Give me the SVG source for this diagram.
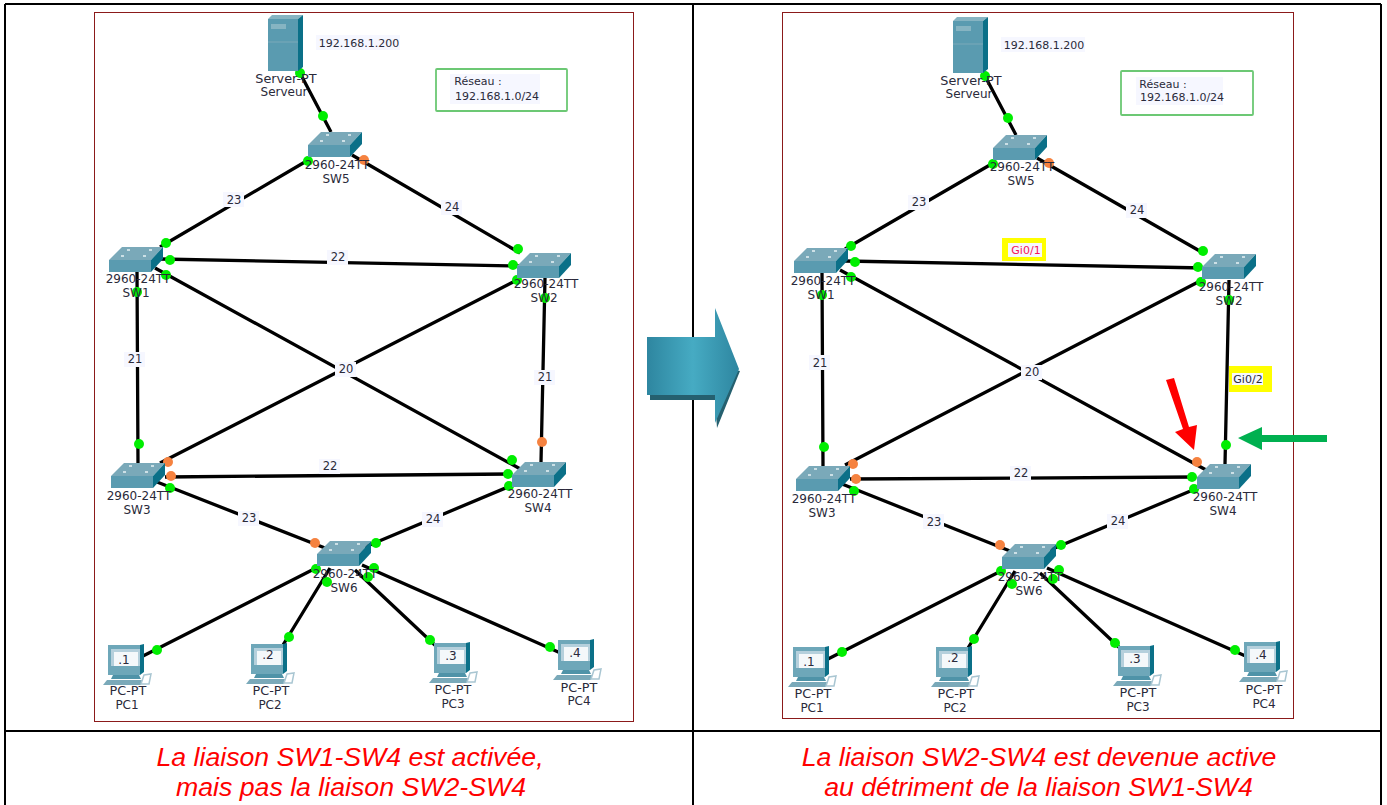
<svg xmlns="http://www.w3.org/2000/svg" width="1387" height="805" viewBox="0 0 1387 805">
<style>
.grid{stroke:#000;stroke-width:2;fill:none}
.frame{stroke:#8b1a1a;stroke-width:1;fill:#fff}
.l{stroke:#000;stroke-width:3.300;fill:none}
.g{fill:#00ee00}
.o{fill:#f58240}
.t{font-family:"DejaVu Sans",sans-serif;font-size:12px;fill:#2a2a3a;text-anchor:middle}
.d{font-size:11.500px}
.tp{font-size:12.800px}
.n{font-family:"DejaVu Sans",sans-serif;font-size:11px;fill:#2a2a3a;text-anchor:middle}
.ip{font-size:12px}
.bg{fill:#f6f7ff}
.cap{font-family:"Liberation Sans",Arial,sans-serif;font-style:italic;font-size:26.700px;fill:#f00;text-anchor:middle}
.box{fill:#fff;stroke:#6cc874;stroke-width:1.800}
.y{fill:#ffff00}
</style>
<defs>
<linearGradient id="ag" x1="0" y1="0" x2="1" y2="0">
<stop offset="0" stop-color="#2e86a0"/><stop offset="0.5" stop-color="#46abc3"/><stop offset="1" stop-color="#2e86a0"/>
</linearGradient>
<symbol id="sw" overflow="visible" viewBox="0 0 54 25" width="54" height="25">
<polygon points="0,13 13,0 54,0 42,13" fill="#7aa9b9"/>
<polygon points="0,13 42,13 42,25 0,25" fill="#5a9bb0"/>
<polygon points="42,13 54,0 54,12 42,25" fill="#0b7088"/>
<path d="M18,3h3M40,3h3M12,9h3M34,9h3" stroke="#e8f2f5" stroke-width="1.500"/>
</symbol>
<symbol id="pc" overflow="visible" viewBox="0 0 48 40" width="48" height="40">
<polygon points="5,0 37,0 37,30 5,30" fill="#6ea7b9"/>
<polygon points="37,0 41,-1 41,27 37,30" fill="#0b7088"/>
<rect x="8" y="4" width="29" height="17" fill="#b5d0dc"/>
<rect x="11" y="7" width="24" height="14" fill="#f4f8fa"/>
<polygon points="10,30 36,30 38,34 8,34" fill="#4f93a8"/>
<polygon points="4,35 39,35 38,40 0,40" fill="#7aa9b9"/>
<polygon points="41,30 48,29 46,39 38,39" fill="none" stroke="#a9c6d2" stroke-width="1.500"/>
</symbol>
<symbol id="srv" overflow="visible" viewBox="0 0 35 56" width="35" height="56">
<polygon points="0,4 4,0 35,0 30,4" fill="#86b4c2"/>
<rect x="0" y="4" width="30" height="52" fill="#5a9bb0"/>
<polygon points="30,4 35,0 35,52 30,56" fill="#0b7088"/>
<rect x="3" y="9" width="15" height="5" fill="#86b4c2"/>
<path d="M0,27h30" stroke="#7aa9b9"/>
</symbol>
</defs>
<rect width="1387" height="805" fill="#fff"/>
<g id="table">
<path class="grid" d="M5,4H1381M5,731H1381M5,4V805M693,4V805M1381,4V805"/>
<rect class="frame" x="94.500" y="12.500" width="539" height="709"/>
<rect class="frame" x="782.500" y="12.500" width="511" height="706"/>
</g>
<g id="connectors-left">
<path class="l" d="M300,73L331,132M310,159L160,247M352,155L520,253M160,259L520,266M155,268L524,471M517,280L160,463M137,270L138,465M545,278L541,462M165,477L510,474M157,482L325,548M515,484L365,547M318,567L143,656M330,568L283,645M355,570L438,648M362,565L565,655"/>
<g class="g"><circle cx="300" cy="73" r="5"/><circle cx="323" cy="116" r="5"/><circle cx="308" cy="161" r="5"/><circle cx="166" cy="243" r="5"/><circle cx="518" cy="249" r="5"/><circle cx="170" cy="260" r="5"/><circle cx="513" cy="265" r="5"/><circle cx="166" cy="275" r="5"/><circle cx="517" cy="280" r="5"/><circle cx="137" cy="292" r="5"/><circle cx="139" cy="444" r="5"/><circle cx="545" cy="298" r="5"/><circle cx="170" cy="488" r="5"/><circle cx="512" cy="460" r="5"/><circle cx="508" cy="474" r="5"/><circle cx="509" cy="486" r="5"/><circle cx="376" cy="543" r="5"/><circle cx="316" cy="569" r="5"/><circle cx="327" cy="582" r="5"/><circle cx="368" cy="577" r="5"/><circle cx="374" cy="568" r="5"/><circle cx="157" cy="650" r="5"/><circle cx="289" cy="637" r="5"/><circle cx="430" cy="640" r="5"/><circle cx="550" cy="647" r="5"/></g>
<g class="o"><circle cx="364" cy="160" r="5"/><circle cx="168" cy="462" r="5"/><circle cx="171" cy="476" r="5"/><circle cx="542" cy="442" r="5"/><circle cx="315" cy="543" r="5"/></g>
<g id="labels-left">
<rect class="bg" x="223" y="192" width="21" height="15"/><text class="t d" x="234" y="204">23</text>
<rect class="bg" x="441" y="200" width="21" height="15"/><text class="t d" x="452" y="211">24</text>
<rect class="bg" x="327" y="250" width="21" height="15"/><text class="t d" x="338" y="261">22</text>
<rect class="bg" x="124" y="352" width="21" height="15"/><text class="t d" x="135" y="363">21</text>
<rect class="bg" x="534" y="370" width="21" height="15"/><text class="t d" x="545" y="381">21</text>
<rect class="bg" x="335" y="362" width="21" height="15"/><text class="t d" x="346" y="373">20</text>
<rect class="bg" x="319" y="459" width="21" height="15"/><text class="t d" x="330" y="470">22</text>
<rect class="bg" x="238" y="511" width="21" height="15"/><text class="t d" x="249" y="522">23</text>
<rect class="bg" x="422" y="512" width="21" height="15"/><text class="t d" x="433" y="523">24</text>
</g>
</g>
<g id="connectors-right">
<path class="l" d="M985,76L1016,135M995,162L845,249M1037,158L1205,254M845,261L1205,268M840,270L1208,471M1202,280L845,465M822,272L823,467M1229,280L1225,464M850,479L1195,477M842,484L1010,551M1200,487L1050,550M1003,570L828,659M1015,571L968,648M1040,573L1123,651M1047,568L1250,658"/>
<g class="g"><circle cx="985" cy="76" r="5"/><circle cx="1008" cy="118" r="5"/><circle cx="993" cy="164" r="5"/><circle cx="851" cy="246" r="5"/><circle cx="1203" cy="251" r="5"/><circle cx="855" cy="262" r="5"/><circle cx="1198" cy="267" r="5"/><circle cx="851" cy="277" r="5"/><circle cx="1201" cy="282" r="5"/><circle cx="822" cy="295" r="5"/><circle cx="1229" cy="300" r="5"/><circle cx="824" cy="447" r="5"/><circle cx="1226" cy="445" r="5"/><circle cx="854" cy="491" r="5"/><circle cx="1192" cy="477" r="5"/><circle cx="1194" cy="489" r="5"/><circle cx="1061" cy="545" r="5"/><circle cx="1001" cy="571" r="5"/><circle cx="1012" cy="584" r="5"/><circle cx="1053" cy="579" r="5"/><circle cx="1059" cy="570" r="5"/><circle cx="842" cy="652" r="5"/><circle cx="974" cy="639" r="5"/><circle cx="1115" cy="643" r="5"/><circle cx="1235" cy="650" r="5"/></g>
<g class="o"><circle cx="1049" cy="163" r="5"/><circle cx="853" cy="464" r="5"/><circle cx="856" cy="479" r="5"/><circle cx="1197" cy="462" r="5"/><circle cx="1000" cy="545" r="5"/></g>
<g id="labels-right">
<rect class="bg" x="908" y="195" width="21" height="15"/><text class="t d" x="919" y="206">23</text>
<rect class="bg" x="1126" y="203" width="21" height="15"/><text class="t d" x="1137" y="214">24</text>
<rect class="y" x="1002" y="238" width="44" height="23"/><rect class="bg" x="1008" y="243" width="34" height="14"/><text class="n" x="1026" y="254" style="fill:#f5145a">Gi0/1</text>
<rect class="bg" x="809" y="355" width="21" height="15"/><text class="t d" x="820" y="367">21</text>
<rect class="y" x="1229" y="366" width="43" height="26"/><rect class="bg" x="1232" y="373" width="31" height="12"/><text class="n" x="1248" y="383">Gi0/2</text>
<rect class="bg" x="1021" y="365" width="21" height="15"/><text class="t d" x="1032" y="376">20</text>
<rect class="bg" x="1010" y="466" width="21" height="15"/><text class="t d" x="1021" y="477">22</text>
<rect class="bg" x="923" y="514" width="21" height="15"/><text class="t d" x="934" y="526">23</text>
<rect class="bg" x="1107" y="514" width="21" height="15"/><text class="t d" x="1118" y="525">24</text>
</g>
</g>
<g id="L-server"><use href="#srv" x="268" y="15" width="35" height="56"/><rect x="316" y="35" width="84" height="15" class="bg"/><text class="n" x="359" y="47">192.168.1.200</text><text class="t tp" x="286" y="83">Server-PT</text><text class="t" x="284" y="96">Serveur</text></g>
<g id="L-network"><rect class="box" x="436" y="69" width="131" height="42" rx="1"/><rect x="450" y="74" width="90" height="30" class="bg"/><text class="n" x="478" y="85">Réseau :</text><text class="n" x="497" y="100">192.168.1.0/24</text></g>
<g id="L-SW5"><use href="#sw" x="308" y="132" width="54" height="25"/><text class="t" x="337" y="169">2960-24TT</text><text class="t" x="336" y="183">SW5</text></g>
<g id="L-SW1"><use href="#sw" x="109" y="247" width="54" height="25"/><text class="t" x="138" y="283">2960-24TT</text><text class="t" x="136" y="297">SW1</text></g>
<g id="L-SW2"><use href="#sw" x="517" y="253" width="54" height="25"/><text class="t" x="546" y="288">2960-24TT</text><text class="t" x="544" y="302">SW2</text></g>
<g id="L-SW3"><use href="#sw" x="111" y="463" width="54" height="25"/><text class="t" x="139" y="500">2960-24TT</text><text class="t" x="137" y="514">SW3</text></g>
<g id="L-SW4"><use href="#sw" x="512" y="462" width="54" height="25"/><text class="t" x="540" y="498">2960-24TT</text><text class="t" x="538" y="512">SW4</text></g>
<g id="L-SW6"><use href="#sw" x="317" y="541" width="54" height="25"/><text class="t" x="345" y="578">2960-24TT</text><text class="t" x="344" y="592">SW6</text></g>
<g id="L-PC1"><use href="#pc" x="103" y="645" width="48" height="40"/><text class="n ip" x="124" y="664">.1</text><text class="t tp" x="128" y="695">PC-PT</text><text class="t" x="127" y="709">PC1</text></g>
<g id="L-PC2"><use href="#pc" x="246" y="644" width="48" height="40"/><text class="n ip" x="268" y="659">.2</text><text class="t tp" x="271" y="695">PC-PT</text><text class="t" x="270" y="709">PC2</text></g>
<g id="L-PC3"><use href="#pc" x="429" y="643" width="48" height="40"/><text class="n ip" x="451" y="660">.3</text><text class="t tp" x="453" y="694">PC-PT</text><text class="t" x="453" y="708">PC3</text></g>
<g id="L-PC4"><use href="#pc" x="553" y="640" width="48" height="40"/><text class="n ip" x="575" y="657">.4</text><text class="t tp" x="579" y="692">PC-PT</text><text class="t" x="579" y="705">PC4</text></g>
<g id="R-server"><use href="#srv" x="953" y="17" width="35" height="56"/><rect x="1001" y="37" width="84" height="15" class="bg"/><text class="n" x="1044" y="49">192.168.1.200</text><text class="t tp" x="971" y="85">Server-PT</text><text class="t" x="969" y="98">Serveur</text></g>
<g id="R-network"><rect class="box" x="1121" y="71" width="132" height="44" rx="1"/><rect x="1136" y="77" width="87" height="28" class="bg"/><text class="n" x="1163" y="88">Réseau :</text><text class="n" x="1182" y="101">192.168.1.0/24</text></g>
<g id="R-SW5"><use href="#sw" x="993" y="135" width="54" height="25"/><text class="t" x="1022" y="171">2960-24TT</text><text class="t" x="1021" y="185">SW5</text></g>
<g id="R-SW1"><use href="#sw" x="794" y="248" width="54" height="25"/><text class="t" x="823" y="285">2960-24TT</text><text class="t" x="821" y="299">SW1</text></g>
<g id="R-SW2"><use href="#sw" x="1202" y="254" width="54" height="25"/><text class="t" x="1231" y="291">2960-24TT</text><text class="t" x="1229" y="305">SW2</text></g>
<g id="R-SW3"><use href="#sw" x="796" y="466" width="54" height="25"/><text class="t" x="824" y="503">2960-24TT</text><text class="t" x="822" y="517">SW3</text></g>
<g id="R-SW4"><use href="#sw" x="1197" y="464" width="54" height="25"/><text class="t" x="1225" y="501">2960-24TT</text><text class="t" x="1223" y="515">SW4</text></g>
<g id="R-SW6"><use href="#sw" x="1002" y="544" width="54" height="25"/><text class="t" x="1030" y="581">2960-24TT</text><text class="t" x="1029" y="595">SW6</text></g>
<g id="R-PC1"><use href="#pc" x="788" y="647" width="48" height="40"/><text class="n ip" x="809" y="666">.1</text><text class="t tp" x="813" y="698">PC-PT</text><text class="t" x="812" y="712">PC1</text></g>
<g id="R-PC2"><use href="#pc" x="931" y="647" width="48" height="40"/><text class="n ip" x="953" y="662">.2</text><text class="t tp" x="956" y="698">PC-PT</text><text class="t" x="955" y="712">PC2</text></g>
<g id="R-PC3"><use href="#pc" x="1113" y="646" width="48" height="40"/><text class="n ip" x="1135" y="663">.3</text><text class="t tp" x="1138" y="697">PC-PT</text><text class="t" x="1138" y="711">PC3</text></g>
<g id="R-PC4"><use href="#pc" x="1239" y="642" width="48" height="40"/><text class="n ip" x="1261" y="659">.4</text><text class="t tp" x="1264" y="694">PC-PT</text><text class="t" x="1264" y="708">PC4</text></g>
<g id="big-arrow">
<polygon points="650,395 650,400 715,400 717,428 740,371 735,370 715,395" fill="#25606f"/>
<polygon points="647,337 715,337 715,308 739,369 715,423 715,395 647,395" fill="url(#ag)"/>
</g>
<g id="arrows">
<polygon points="1166,380 1174,378 1189,427 1197,425 1194,450 1175,432 1183,429" fill="#f00"/>
<polygon points="1238,438 1262,427 1262,435 1327,435 1327,442 1262,442 1262,450" fill="#00b050"/>
</g>
<g id="captions">
<text class="cap" x="350" y="765.500">La liaison SW1-SW4 est activée,</text>
<text class="cap" x="351" y="796">mais pas la liaison SW2-SW4</text>
<text class="cap" x="1039" y="765.500">La liaison SW2-SW4 est devenue active</text>
<text class="cap" x="1038.500" y="796">au détriment de la liaison SW1-SW4</text>
</g>
</svg>
